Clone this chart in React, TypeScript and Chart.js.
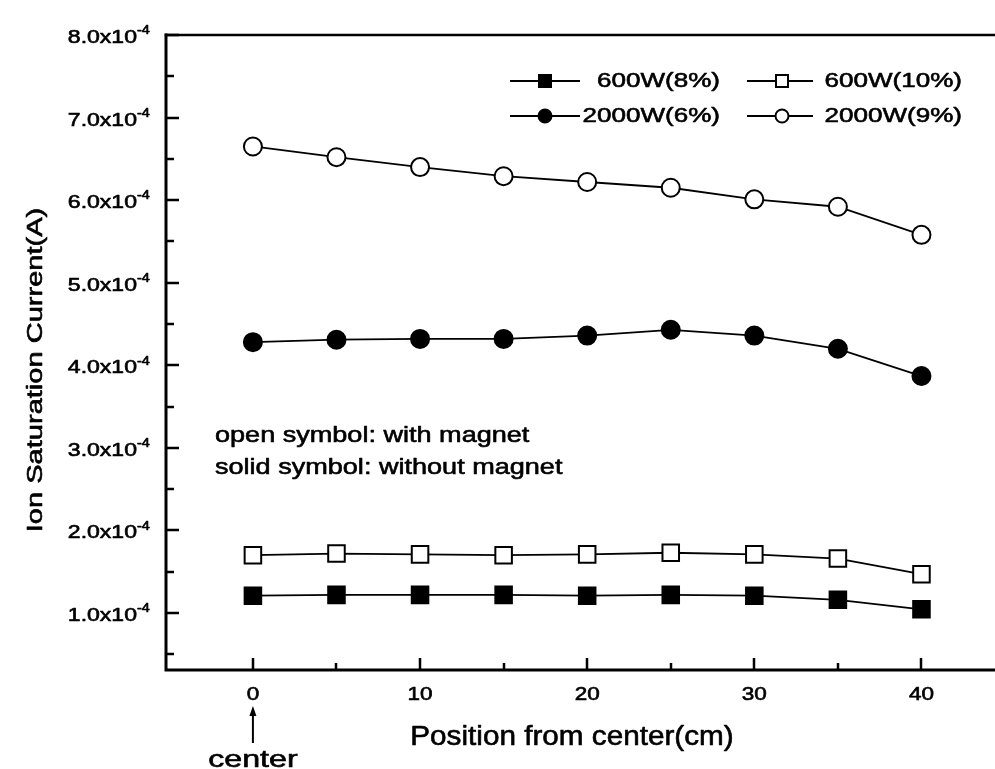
import React, { useEffect, useRef } from 'react';
import { Chart, registerables } from 'chart.js';

Chart.register(...registerables);

// ---------- data ----------
const positions = [0, 5, 10, 15, 20, 25, 30, 35, 40];
const w600_8 = [1.21e-4, 1.22e-4, 1.22e-4, 1.22e-4, 1.21e-4, 1.22e-4, 1.21e-4, 1.16e-4, 1.045e-4];
const w600_10 = [1.70e-4, 1.72e-4, 1.71e-4, 1.70e-4, 1.71e-4, 1.73e-4, 1.71e-4, 1.66e-4, 1.47e-4];
const w2000_6 = [4.28e-4, 4.31e-4, 4.32e-4, 4.32e-4, 4.36e-4, 4.43e-4, 4.36e-4, 4.20e-4, 3.87e-4];
const w2000_9 = [6.65e-4, 6.52e-4, 6.40e-4, 6.29e-4, 6.22e-4, 6.15e-4, 6.01e-4, 5.92e-4, 5.58e-4];
const seriesLabels = ['600W(8%)', '600W(10%)', '2000W(6%)', '2000W(9%)'];

const yMajorTicks = [1e-4, 2e-4, 3e-4, 4e-4, 5e-4, 6e-4, 7e-4, 8e-4];
const yTickLabels = ['1.0x10', '2.0x10', '3.0x10', '4.0x10', '5.0x10', '6.0x10', '7.0x10', '8.0x10'];
const yTickExponent = '-4';
const yMinorTicks = [0.5e-4, 1.5e-4, 2.5e-4, 3.5e-4, 4.5e-4, 5.5e-4, 6.5e-4, 7.5e-4];
const xMajorTicks = [0, 10, 20, 30, 40];
const xTickLabels = ['0', '10', '20', '30', '40'];
const xMinorTicks = [5, 15, 25, 35];

const xTitle = 'Position from center(cm)';
const yTitle = 'Ion Saturation Current(A)';
const notes = ['open symbol: with magnet', 'solid symbol: without magnet'];
const centerLabel = 'center';

const FONT = '"Liberation Sans", Arial, Helvetica, sans-serif';

function txt(
  ctx: CanvasRenderingContext2D,
  s: string,
  x: number,
  y: number,
  size: number,
  align: CanvasTextAlign,
  stretch: number,
  rot = 0
) {
  ctx.save();
  ctx.font = `${size}px ${FONT}`;
  ctx.fillStyle = '#000';
  ctx.strokeStyle = '#000';
  ctx.lineWidth = 0.6;
  ctx.lineJoin = 'round';
  ctx.textBaseline = 'middle';
  ctx.textAlign = align;
  ctx.translate(x, y);
  if (rot) ctx.rotate(rot);
  ctx.scale(stretch, 1);
  ctx.fillText(s, 0, 0);
  ctx.strokeText(s, 0, 0);
  ctx.restore();
}

function marker(ctx: CanvasRenderingContext2D, style: string, filled: boolean, x: number, y: number, size: number) {
  ctx.save();
  ctx.lineWidth = 2;
  ctx.strokeStyle = '#000';
  ctx.fillStyle = filled ? '#000' : '#fff';
  ctx.beginPath();
  if (style === 'rect') {
    ctx.rect(x - size / 2, y - size / 2, size, size);
  } else {
    ctx.arc(x, y, size / 2, 0, Math.PI * 2);
  }
  ctx.fill();
  ctx.stroke();
  ctx.restore();
}

const decor = {
  id: 'decor',
  beforeDraw(chart: any) {
    const ctx = chart.ctx;
    ctx.save();
    ctx.fillStyle = '#fff';
    ctx.fillRect(0, 0, chart.width, chart.height);
    ctx.restore();
  },
  afterDraw(chart: any) {
    const ctx: CanvasRenderingContext2D = chart.ctx;
    const { left, top, bottom } = chart.chartArea;
    const right = chart.width;
    const xs = chart.scales.x;
    const ys = chart.scales.y;

    // frame
    ctx.save();
    ctx.strokeStyle = '#000';
    ctx.lineCap = 'square';
    ctx.lineWidth = 3;
    ctx.beginPath();
    ctx.moveTo(left, top);
    ctx.lineTo(left, bottom);
    ctx.lineTo(right, bottom);
    ctx.stroke();
    ctx.lineWidth = 2.5;
    ctx.beginPath();
    ctx.moveTo(left, top);
    ctx.lineTo(right, top);
    ctx.stroke();

    // ticks (inward)
    ctx.lineWidth = 2.5;
    ctx.lineCap = 'butt';
    ctx.beginPath();
    yMajorTicks.forEach((v) => {
      const py = Math.round(ys.getPixelForValue(v));
      ctx.moveTo(left, py);
      ctx.lineTo(left + 13, py);
    });
    yMinorTicks.forEach((v) => {
      const py = Math.round(ys.getPixelForValue(v));
      ctx.moveTo(left, py);
      ctx.lineTo(left + 8, py);
    });
    xMajorTicks.forEach((v) => {
      const px = Math.round(xs.getPixelForValue(v));
      ctx.moveTo(px, bottom);
      ctx.lineTo(px, bottom - 12);
    });
    xMinorTicks.forEach((v) => {
      const px = Math.round(xs.getPixelForValue(v));
      ctx.moveTo(px, bottom);
      ctx.lineTo(px, bottom - 7);
    });
    ctx.stroke();
    ctx.restore();

    // y tick labels
    yMajorTicks.forEach((v, i) => {
      const py = ys.getPixelForValue(v);
      txt(ctx, yTickLabels[i], left - 29, py + 3, 18, 'right', 1.28);
      txt(ctx, yTickExponent, left - 29, py - 4, 12, 'left', 1.2);
    });

    // x tick labels
    xMajorTicks.forEach((v, i) => {
      const px = xs.getPixelForValue(v);
      txt(ctx, xTickLabels[i], px, bottom + 25, 18, 'center', 1.25);
    });

    // axis titles
    txt(ctx, xTitle, 572, 738, 27, 'center', 1.1);
    txt(ctx, yTitle, 36, 370, 22, 'center', 1.32, -Math.PI / 2);

    // center arrow
    const cx = xs.getPixelForValue(0);
    ctx.save();
    ctx.strokeStyle = '#000';
    ctx.fillStyle = '#000';
    ctx.lineWidth = 2;
    ctx.beginPath();
    ctx.moveTo(cx, 743);
    ctx.lineTo(cx, 713);
    ctx.stroke();
    ctx.beginPath();
    ctx.moveTo(cx, 706);
    ctx.lineTo(cx - 3.5, 716);
    ctx.lineTo(cx + 3.5, 716);
    ctx.closePath();
    ctx.fill();
    ctx.restore();
    txt(ctx, centerLabel, cx, 760, 24, 'center', 1.34);

    // notes
    txt(ctx, notes[0], 215, 436, 22, 'left', 1.23);
    txt(ctx, notes[1], 215, 468, 22, 'left', 1.23);

    // legend
    const cols = [
      { x1: 510, x2: 580, mx: 545, tx: 720 },
      { x1: 747, x2: 813, mx: 782, tx: 962 },
    ];
    const rows = [81, 116];
    chart.data.datasets.forEach((ds: any, i: number) => {
      const c = cols[i % 2];
      const ry = rows[Math.floor(i / 2)];
      ctx.save();
      ctx.strokeStyle = '#000';
      ctx.lineWidth = 2;
      ctx.beginPath();
      ctx.moveTo(c.x1, ry);
      ctx.lineTo(c.x2, ry);
      ctx.stroke();
      ctx.restore();
      marker(ctx, ds.pointStyle, ds.pointBackgroundColor === '#000', c.mx, ry, ds.pointStyle === 'rect' ? 12 : 13);
      txt(ctx, ds.label, c.tx, ry, 21, 'right', 1.24);
    });
  },
};

function makeDataset(label: string, values: number[], style: string, filled: boolean) {
  return {
    label,
    data: positions.map((p, i) => ({ x: p, y: values[i] })),
    borderColor: '#000',
    borderWidth: 1.8,
    pointStyle: style,
    pointRadius: style === 'rect' ? 11.7 : 9,
    pointBorderWidth: 2,
    pointBorderColor: '#000',
    pointBackgroundColor: filled ? '#000' : '#fff',
    fill: false,
    tension: 0,
    clip: false as any,
  };
}

export default function App() {
  const ref = useRef<HTMLCanvasElement | null>(null);
  useEffect(() => {
    if (!ref.current) return;
    const chart = new Chart(ref.current, {
      type: 'line',
      data: {
        datasets: [
          makeDataset(seriesLabels[0], w600_8, 'rect', true),
          makeDataset(seriesLabels[1], w600_10, 'rect', false),
          makeDataset(seriesLabels[2], w2000_6, 'circle', true),
          makeDataset(seriesLabels[3], w2000_9, 'circle', false),
        ] as any,
      },
      options: {
        responsive: false,
        animation: false,
        layout: { autoPadding: false, padding: { left: 166, top: 35, right: 0, bottom: 99 } },
        scales: {
          x: {
            type: 'linear',
            min: -5.2,
            max: 44.4,
            ticks: { display: false },
            grid: { display: false },
            border: { display: false },
            afterFit: (s: any) => {
              s.height = 0;
            },
          },
          y: {
            type: 'linear',
            min: 0.31e-4,
            max: 8e-4,
            ticks: { display: false },
            grid: { display: false },
            border: { display: false },
            afterFit: (s: any) => {
              s.width = 0;
            },
          },
        },
        plugins: { legend: { display: false }, tooltip: { enabled: false } },
      } as any,
      plugins: [decor],
    });
    return () => chart.destroy();
  }, []);
  return (
    <div style={{ position: 'fixed', left: 0, top: 0, width: 995, height: 769, background: '#fff' }}>
      <canvas ref={ref} width={995} height={769} style={{ display: 'block' }} />
    </div>
  );
}
